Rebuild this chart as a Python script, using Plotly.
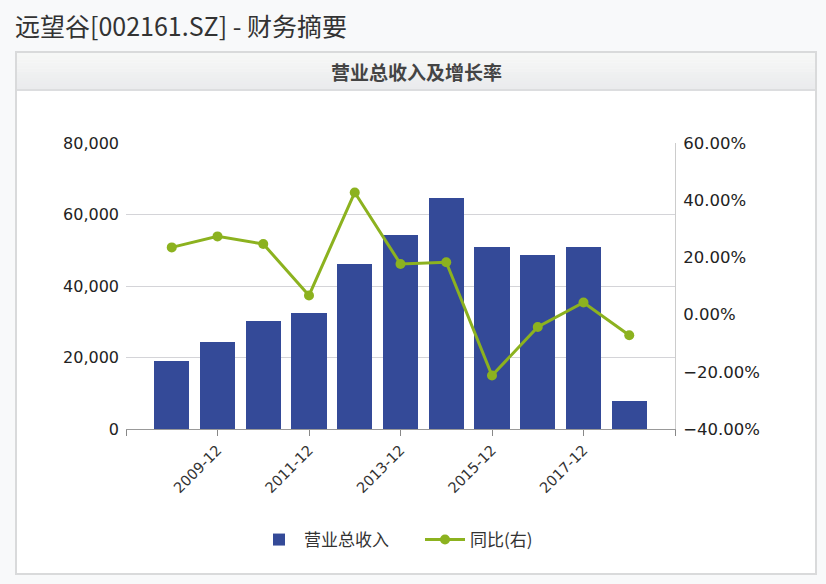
import plotly.graph_objects as go

categories = ["2008-12", "2009-12", "2010-12", "2011-12", "2012-12", "2013-12",
              "2014-12", "2015-12", "2016-12", "2017-12", "2018-03"]
revenue = [19100, 24250, 30200, 32450, 46070, 54270, 64530, 50820, 48670, 50820, 7830]
growth = [23.5, 27.35, 24.7, 6.7, 42.7, 17.7, 18.3, -21.3, -4.35, 4.25, -7.25]
tick_labels = ["2009-12", "2011-12", "2013-12", "2015-12", "2017-12"]

W, H = 826, 584
L, R, T, B = 126, 675, 143, 429

def px(x):
    return (x - L) / (R - L)

def py(y):
    return (B - y) / (B - T)

idx = list(range(len(categories)))
tickvals = [-1] + [categories.index(t) for t in tick_labels] + [len(categories)]
ticktext = [""] + tick_labels + [""]

FONT = "DejaVu Sans, Noto Sans CJK SC, sans-serif"
CJK = "Noto Sans CJK SC, sans-serif"

fig = go.Figure()
fig.add_trace(go.Bar(
    x=idx, y=revenue, name="营业总收入", width=0.77,
    marker=dict(color="#344A98", line=dict(width=0)),
    customdata=categories, hovertemplate="%{customdata}: %{y:,}<extra></extra>",
))
fig.add_trace(go.Scatter(
    x=idx, y=growth, name="同比(右)", yaxis="y2", mode="lines+markers",
    line=dict(color="#8CB21F", width=3),
    marker=dict(color="#8CB21F", size=10),
    customdata=categories, hovertemplate="%{customdata}: %{y:.2f}%<extra></extra>",
))

shapes = [
    dict(type="rect", xref="paper", yref="paper", layer="below",
         x0=px(16), x1=px(816), y0=py(52), y1=py(574),
         fillcolor="white", line=dict(color="#d9dadb", width=2)),
]
n = 12
top, bot = 53, 90
c0 = (246, 247, 246)
c1 = (234, 235, 237)
for i in range(n):
    t = i / (n - 1)
    col = "rgb(%d,%d,%d)" % tuple(int(round(a + (b - a) * t)) for a, b in zip(c0, c1))
    ya = top + (bot - top) * i / n
    yb = top + (bot - top) * (i + 1) / n
    shapes.append(dict(type="rect", xref="paper", yref="paper", layer="below",
                       x0=px(17), x1=px(815), y0=py(ya), y1=py(yb + 0.3),
                       fillcolor=col, line=dict(width=0)))
shapes.append(dict(type="line", xref="paper", yref="paper", layer="below",
                   x0=px(17), x1=px(815), y0=py(90), y1=py(90),
                   line=dict(color="#dcdddf", width=2)))

annotations = [
    dict(text="远望谷[002161.SZ] - 财务摘要", xref="paper", yref="paper",
         x=px(13), y=py(25), xanchor="left", yanchor="middle", showarrow=False,
         font=dict(family=CJK, size=25, color="#333333")),
    dict(text="<b>营业总收入及增长率</b>", xref="paper", yref="paper",
         x=px(416), y=py(71), xanchor="center", yanchor="middle", showarrow=False,
         font=dict(family=CJK, size=19, color="#444444")),
]

fig.update_layout(
    width=W, height=H,
    margin=dict(l=L, r=W - R, t=T, b=H - B, pad=0),
    paper_bgcolor="#f8f9fa", plot_bgcolor="white",
    font=dict(family=FONT, color="#333333"),
    bargap=0,
    showlegend=True,
    legend=dict(orientation="h", x=px(254), y=py(540), xanchor="left", yanchor="middle",
                font=dict(family=CJK, size=17, color="#333333"),
                bgcolor="rgba(0,0,0,0)", itemwidth=40, traceorder="normal",
                entrywidth=111, entrywidthmode="pixels"),
    xaxis=dict(range=[-1, len(categories)], tickmode="array", tickvals=tickvals,
               ticktext=ticktext, tickangle=-45, ticks="outside", ticklen=6,
               tickcolor="#888888", showline=True, linecolor="#999999", linewidth=1,
               showgrid=False, zeroline=False,
               tickfont=dict(family=FONT, size=14.5, color="#333333")),
    yaxis=dict(range=[0, 80000], dtick=20000, tickformat=",d", showgrid=True,
               gridcolor="#d4d4d8", gridwidth=1, zeroline=False, showline=False,
               ticks="", ticklabelstandoff=6,
               tickfont=dict(family=FONT, size=16, color="#222222")),
    yaxis2=dict(range=[-40, 60], dtick=20, tickformat=".2f", ticksuffix="%",
                overlaying="y", side="right", showgrid=False, zeroline=False,
                showline=True, linecolor="#cccccc", linewidth=1, ticks="",
                ticklabelstandoff=4,
                tickfont=dict(family=FONT, size=16.5, color="#222222")),
    shapes=shapes,
    annotations=annotations,
)

fig.write_html("out.html", config={"displayModeBar": False},
               post_script="document.body.style.margin='0';document.body.style.background='#f8f9fa';")
